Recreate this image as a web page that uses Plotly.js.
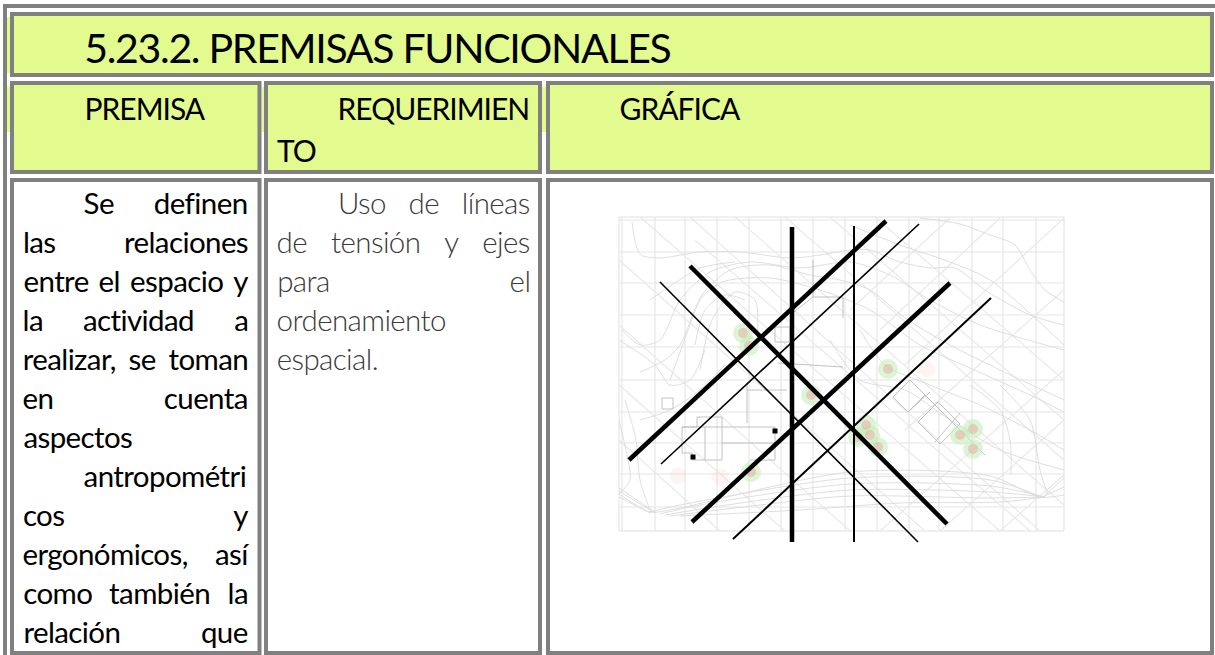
<!DOCTYPE html>
<html><head><meta charset="utf-8">
<script src="https://cdn.plot.ly/plotly-3.0.1.min.js"></script>
<style>html,body{margin:0;padding:0;background:#fff;overflow:hidden}</style>
</head><body><div id="chart" style="width:1215px;height:655px"></div>
<script>
const FONT='Lato';
const YELLOW='#e3fb8e', GRAY='#808080';
const titleText='5.23.2. PREMISAS FUNCIONALES';
const headers=[['PREMISA',83,119.5],['REQUERIMIEN',336,119.5],['TO',276,161.5],['GRÁFICA',618,119.5]];
const premiseLines=[['Se definen',83,1],['las relaciones',22,1],['entre el espacio y',22,1],['la actividad a',22,1],['realizar, se toman',22,1],['en cuenta',22,1],['aspectos',22,0],['antropométri',83,0],['cos y',22,1],['ergonómicos, así',22,1],['como también la',22,1],['relación que',22,1]];
const requirementLines=[['Uso de líneas',337,1],['de tensión y ejes',276,1],['para el',276,1],['ordenamiento',276,0],['espacial.',276,0]];
const baselines=[214,253,292,331,370,409,448,487,526,565,604,643];
const cells=[[12,1212,14,75,YELLOW],[12,259.5,83,172,YELLOW],[266,540,83,172,YELLOW],[548,1212,83,172,YELLOW],[12,259.5,180,653,'#fff'],[266,540,180,653,'#fff'],[548,1212,180,653,'#fff']];
const strips=[[7,10,17,73],[7,10,87,132],[262,265,87,132],[542,546,87,132]];
const gridX=[622,655,685,717,749,781,813,845,877,909,939,972,1003,1036];
const gridY=[220,252,283,315,347,380,412,443,474,507];
const mapBox=[619,1064,217,531];
const lightDiagonals=[[640,217,1000,531],[690,217,1040,531],[735,217,1064,505],[785,217,1064,460],[830,217,1064,420],[875,217,1064,380],[619,260,925,531],[619,325,850,531],[619,385,785,531],[619,440,720,531],[695,240,1030,531],[1064,218,905,365],[1064,290,905,430],[1064,370,880,531],[1064,420,940,531],[1064,475,1000,531],[1000,218,880,330],[950,218,850,310]];
const contours=[
[632,222,636,245,641,255,660,258,700,252,740,252,790,258,820,255,850,250,870,250,900,262,930,268,955,268,985,290,1030,315,1064,325],
[920,218,960,224,990,235,1015,245,1030,270,1045,290,1064,302],
[670,380,690,325,702,295,730,270,770,265,810,275,840,280,870,290,905,318,950,345,1000,370,1064,400],
[622,330,640,345,660,340,680,300,710,272,750,262,800,268,850,262,890,275,930,300,980,325,1064,350],
[640,372,665,360,680,345,700,300,722,282,770,278,820,290,870,310,920,345,970,368,1030,395,1064,412],
[700,370,712,320,735,292,755,300,757,340],
[619,340,655,365,670,385,690,380,705,350],
[860,330,885,365,930,385,980,405,1030,430,1064,450],
[970,385,1000,410,1010,440,1011,475],
[1000,385,1030,420,1040,470,1048,495],
[619,420,628,460,630,480,619,494],
[625,400,636,440,640,480,650,510],
[619,494,650,512,670,510,850,472,990,476,1040,497,1064,495],
[650,512,680,505,850,478,990,480,1042,497],
[660,514,700,505,850,484,990,486,1045,497],
[665,515,720,506,850,490,990,492,1045,497],
[670,516,760,505,850,496,990,498,1045,497],
[680,516,800,510,900,503,1000,502,1045,497],
[619,488,655,512],[619,491,655,513],[619,497,650,513],[1064,487,1042,497],[1064,478,1045,495],
[850,225,900,245,950,262,990,280,1064,345],
[830,340,860,380,905,390,950,420,1000,450,1064,470],
[650,300,672,285,700,268,735,262],
[695,345,705,310,725,295,745,300],
[640,420,670,410,700,390,725,365]];
const buildings=[
[682,427,682,453,692,453,692,460,722,460,722,417,697,417,697,427,682,427],
[682,427,775,427,775,460,750,460],[722,443,775,443],[705,427,705,460],
[747,383,747,423],[747,390,787,390],[662,398,673,398,673,409,662,409,662,398],
[813,297,813,260],[813,297,790,315],[813,297,843,297,843,318],[775,327,790,327,790,342,775,342,775,327],[778,363,843,367],
[893,397,910,380,925,395,908,412,893,397],[908,412,930,392],[918,422,938,402,960,424,940,444,918,422],[935,442,960,413],[925,395,985,455]];
const treesX=[743,749,811,751,888,866,870,858,878,960,973,973];
const treesY=[333,346,395,472,369,425,435,437,447,435,429,449];
const faintTreesX=[927,678,720];
const faintTreesY=[369,476,477];
const blackSquaresX=[693,775];
const blackSquaresY=[457,431];
const axisLines=[[792,227,792,542,4.5],[854,226,854,542,2],[629,460,886,221,4.5],[661,464,919,224,1.6],[692,522,950,283,4.5],[733,539,991,298,2],[690,266,947,524,4.5],[660,282,918,542,1.6]];

const TITLE_SIZE=41, HEAD_SIZE=30, BODY_SIZE=29.5, TOP_K=1.03;
const SPACING={title:-1.3,head:-1,body:-0.6};
const ctx=document.createElement('canvas').getContext('2d');
function widthOf(s,size,weight){ctx.font=`${weight} ${size}px ${FONT}`;ctx.letterSpacing=SPACING.body+'px';return ctx.measureText(s).width;}
const ann=[];
const spacingByAnn=[];
function put(text,x,base,size,color,weight,sp){
  spacingByAnn.push(sp);
  ann.push({text:text,x:x+sp*text.length/2,y:base-TOP_K*size,xref:'x',yref:'y',xanchor:'left',yanchor:'top',showarrow:false,borderpad:0,
    font:{family:FONT,size:size,color:color,weight:weight}});
}
function justified(lines,right,color,weight){
  lines.forEach((l,i)=>{
    const words=l[0].split(' '),left=l[1],base=baselines[i];
    if(!l[2]||words.length<2){put(l[0],left,base,BODY_SIZE,color,weight,SPACING.body);return;}
    const w=words.map(s=>widthOf(s,BODY_SIZE,weight));
    const gap=(right-left-w.reduce((a,b)=>a+b,0))/(words.length-1);
    let x=left;
    words.forEach((s,k)=>{put(s,x,base,BODY_SIZE,color,weight,SPACING.body);x+=w[k]+gap;});
  });
}
put(titleText,83,64,TITLE_SIZE,'#000',400,SPACING.title);
headers.forEach(h=>put(h[0],h[1],h[2],HEAD_SIZE,'#000',400,SPACING.head));
justified(premiseLines,247,'#000',400);
justified(requirementLines,529,'#3a3a3a',300);

const shapes=[{type:'rect',layer:'below',xref:'x',yref:'y',x0:5,x1:1240,y0:6,y1:700,line:{color:GRAY,width:4},fillcolor:'#fff'}];
strips.forEach(s=>shapes.push({type:'rect',layer:'below',xref:'x',yref:'y',x0:s[0],x1:s[1],y0:s[2],y1:s[3],line:{width:0},fillcolor:YELLOW}));
cells.forEach(c=>shapes.push({type:'rect',layer:'below',xref:'x',yref:'y',x0:c[0],x1:c[1],y0:c[2],y1:c[3],line:{color:GRAY,width:4},fillcolor:c[4]}));
shapes.push({type:'rect',layer:'below',xref:'x',yref:'y',x0:mapBox[0],x1:mapBox[1],y0:mapBox[2],y1:mapBox[3],line:{color:'#e0e0e0',width:1},fillcolor:'#fff'});

function pathsTo(list){const xs=[],ys=[];list.forEach(p=>{for(let i=0;i<p.length;i+=2){xs.push(p[i]);ys.push(p[i+1]);}xs.push(null);ys.push(null);});return [xs,ys];}
const traces=[];
function addPaths(list,color,width,shape){const [x,y]=pathsTo(list);traces.push({type:'scatter',mode:'lines',x:x,y:y,line:{color:color,width:width,shape:shape||'linear',smoothing:0.8},hoverinfo:'skip',showlegend:false});}
const gx=[];gridX.forEach(v=>gx.push([v,mapBox[2],v,mapBox[3]]));
const gy=[];gridY.forEach(v=>gy.push([mapBox[0],v,mapBox[1],v]));
addPaths(gx.concat(gy),'#e6e6e6',1.2);
addPaths(lightDiagonals,'#e8e8e8',1.1);
contours.forEach(c=>addPaths([c],'#dadada',0.9,'spline'));
addPaths(buildings,'#bbbbbb',0.9);
traces.push({type:'scatter',mode:'markers',x:faintTreesX,y:faintTreesY,marker:{size:17,color:'rgba(240,200,190,0.18)',line:{width:0}},hoverinfo:'skip',showlegend:false});
traces.push({type:'scatter',mode:'markers',x:treesX,y:treesY,marker:{size:20,color:'rgba(195,238,185,0.6)',line:{width:0}},hoverinfo:'skip',showlegend:false});
traces.push({type:'scatter',mode:'markers',x:treesX,y:treesY,marker:{size:10,color:'rgba(240,165,165,0.5)',line:{width:0}},hoverinfo:'skip',showlegend:false});
traces.push({type:'scatter',mode:'markers',x:blackSquaresX,y:blackSquaresY,marker:{size:5,symbol:'square',color:'#000'},hoverinfo:'skip',showlegend:false});
axisLines.forEach(a=>traces.push({type:'scatter',mode:'lines',x:[a[0],a[2]],y:[a[1],a[3]],line:{color:'#000',width:a[4]},hoverinfo:'skip',showlegend:false}));

Plotly.newPlot('chart',traces,{
  width:1215,height:655,margin:{l:0,r:0,t:0,b:0},paper_bgcolor:'#fff',plot_bgcolor:'#fff',showlegend:false,
  xaxis:{range:[0,1215],visible:false,fixedrange:true},
  yaxis:{range:[655,0],visible:false,fixedrange:true},
  shapes:shapes,annotations:ann
},{staticPlot:true,displayModeBar:false}).then(gd=>{
  gd.querySelectorAll('.annotation').forEach(a=>{
    const i=+a.getAttribute('data-index');
    const t=a.querySelector('text');
    if(t) t.style.letterSpacing=spacingByAnn[i]+'px';
  });
});
</script></body></html>
